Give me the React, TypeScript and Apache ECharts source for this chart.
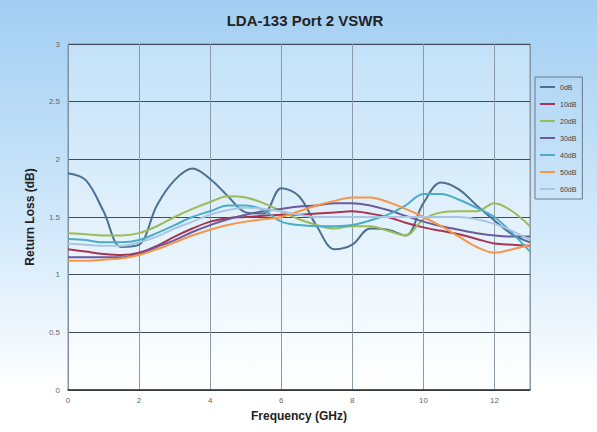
import React, { useEffect, useRef } from "react";
import * as echarts from "echarts";

const freq = [0,0.5,1,1.5,2,2.5,3,3.5,4,4.5,5,5.5,6,6.5,7,7.5,8,8.5,9,9.5,10,10.5,11,11.5,12,12.5,13];
const seriesNames = ["0dB","10dB","20dB","30dB","40dB","50dB","60dB"];
const s0 = [1.88,1.82,1.55,1.24,1.26,1.6,1.82,1.92,1.83,1.68,1.54,1.53,1.75,1.68,1.42,1.22,1.26,1.4,1.39,1.34,1.62,1.8,1.74,1.6,1.47,1.35,1.28];
const s10 = [1.22,1.2,1.18,1.17,1.19,1.25,1.33,1.4,1.46,1.49,1.5,1.51,1.52,1.52,1.53,1.54,1.55,1.53,1.5,1.45,1.41,1.38,1.35,1.31,1.27,1.26,1.25];
const s20 = [1.36,1.35,1.34,1.34,1.36,1.42,1.5,1.57,1.63,1.68,1.67,1.62,1.55,1.48,1.43,1.4,1.42,1.42,1.38,1.34,1.48,1.54,1.55,1.55,1.62,1.55,1.42];
const s30 = [1.15,1.15,1.15,1.15,1.18,1.24,1.3,1.37,1.43,1.48,1.52,1.55,1.57,1.59,1.6,1.62,1.62,1.6,1.56,1.51,1.46,1.42,1.39,1.36,1.34,1.33,1.33];
const s40 = [1.31,1.3,1.28,1.28,1.3,1.36,1.43,1.5,1.55,1.6,1.6,1.56,1.46,1.43,1.42,1.42,1.43,1.47,1.52,1.6,1.7,1.7,1.65,1.58,1.5,1.36,1.2];
const s50 = [1.12,1.12,1.13,1.14,1.17,1.22,1.28,1.34,1.39,1.43,1.46,1.48,1.5,1.55,1.6,1.64,1.67,1.67,1.63,1.57,1.5,1.42,1.33,1.24,1.19,1.22,1.26];
const s60 = [1.27,1.26,1.25,1.25,1.28,1.33,1.4,1.46,1.52,1.56,1.58,1.57,1.55,1.52,1.5,1.5,1.5,1.5,1.5,1.5,1.5,1.5,1.5,1.48,1.44,1.38,1.3];
const seriesValues = [s0, s10, s20, s30, s40, s50, s60];
const colors = ["#4d7090", "#a83450", "#9bbb59", "#6a5a9e", "#4bacc6", "#f79646", "#a8c6e4"];

export default function App() {
  const ref = useRef<HTMLDivElement>(null);
  useEffect(() => {
    if (!ref.current) return;
    const chart = echarts.init(ref.current, null, { renderer: "svg" });
    const font = "Liberation Sans, Arial, sans-serif";
    chart.setOption({
      animation: false,
      backgroundColor: new echarts.graphic.LinearGradient(0, 0, 0, 1, [
        { offset: 0, color: "#a2cef2" },
        { offset: 0.55, color: "#d4eafb" },
        { offset: 0.9, color: "#ffffff" },
        { offset: 1, color: "#ffffff" },
      ]),
      color: colors,
      title: {
        text: "LDA-133 Port 2 VSWR",
        left: 300,
        textAlign: "center",
        top: 8,
        textStyle: { fontFamily: font, fontSize: 15, fontWeight: "bold", color: "#222" },
      },
      legend: {
        orient: "vertical",
        left: 535,
        top: 77,
        padding: [5, 6, 5, 5],
        borderColor: "#6a7a8a",
        borderWidth: 1,
        icon: "rect",
        itemWidth: 15,
        itemHeight: 2,
        itemGap: 7,
        textStyle: { fontFamily: font, fontSize: 7, color: "#444", lineHeight: 10 },
        data: seriesNames,
      },
      grid: {
        left: 68,
        right: 67,
        top: 44,
        bottom: 42,
        show: true,
        borderColor: "#8090a0",
        borderWidth: 1,
        backgroundColor: new echarts.graphic.LinearGradient(0, 0, 0, 1, [
          { offset: 0, color: "#c2e1f8" },
          { offset: 0.7, color: "#eef7fd" },
          { offset: 1, color: "#ffffff" },
        ]),
      },
      xAxis: {
        type: "value",
        min: 0,
        max: 13,
        interval: 2,
        name: "Frequency (GHz)",
        nameLocation: "middle",
        nameGap: 20,
        nameTextStyle: { fontFamily: font, fontSize: 12, fontWeight: "bold", color: "#222" },
        axisLine: { show: true, lineStyle: { color: "#333", width: 1.5 } },
        axisTick: { show: false },
        axisLabel: { fontFamily: font, fontSize: 8, color: "#666", margin: 6, showMaxLabel: false },
        splitLine: { show: true, lineStyle: { color: "#8c9aa8", width: 1 } },
      },
      yAxis: {
        type: "value",
        min: 0,
        max: 3,
        interval: 0.5,
        name: "Return Loss (dB)",
        nameLocation: "middle",
        nameGap: 32,
        nameTextStyle: { fontFamily: font, fontSize: 12, fontWeight: "bold", color: "#222" },
        axisLine: { show: true, lineStyle: { color: "#8090a0" } },
        axisTick: { show: false },
        axisLabel: { fontFamily: font, fontSize: 8, color: "#666", margin: 8 },
        splitLine: { show: true, lineStyle: { color: "#3e4c5c", width: 1 } },
      },
      series: seriesNames.map((name, i) => ({
        name,
        type: "line",
        smooth: 0.35,
        showSymbol: false,
        symbol: "none",
        lineStyle: { width: 2, color: colors[i] },
        itemStyle: { color: colors[i] },
        data: freq.map((f, j) => [f, seriesValues[i][j]]),
      })),
    });
    return () => chart.dispose();
  }, []);
  return <div ref={ref} style={{ position: "fixed", left: 0, top: 0, width: 597, height: 432 }} />;
}
